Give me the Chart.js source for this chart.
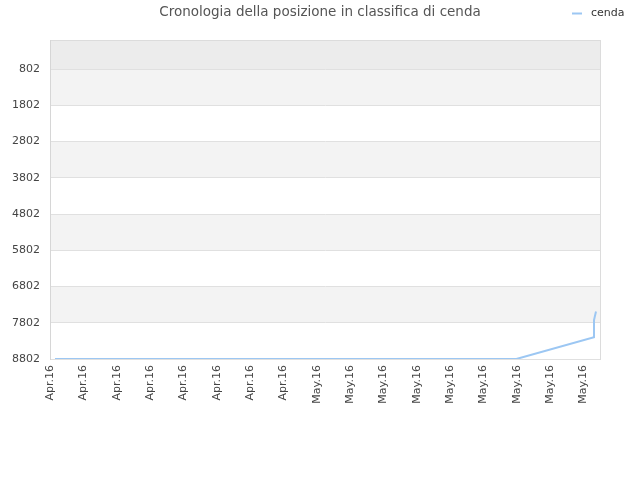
<!DOCTYPE html>
<html lang="it">
<head>
    <meta charset="UTF-8">
    <title>Cronologia della posizione in classifica di cenda</title>
    <script src="https://cdn.jsdelivr.net/npm/chart.js"></script>
    <style>
        html, body { margin: 0; padding: 0; background: #fff; }
        #wrap { width: 640px; height: 480px; }
    </style>
</head>
<body>
    <div id="wrap"><canvas id="rankChart" width="640" height="480"></canvas></div>

    <script>
        const xLabels = ['Apr.16', 'Apr.16', 'Apr.16', 'Apr.16', 'Apr.16', 'Apr.16', 'Apr.16', 'Apr.16',
                         'May.16', 'May.16', 'May.16', 'May.16', 'May.16', 'May.16', 'May.16', 'May.16', 'May.16'];
        const yTicks = [802, 1802, 2802, 3802, 4802, 5802, 6802, 7802, 8802];
        // x position of each reading, in label steps
        const pointPos = [0.15, 13.99, 16.32, 16.32, 16.38];
        const rankValues = [8802, 8802, 8203, 7726, 7492];
        const seriesName = 'cenda';

        const textColor = '#444';
        const lineColor = '#9cc7f3';

        // alternating bands behind the plot + frame
        const bandsPlugin = {
            id: 'bands',
            beforeDraw(chart) {
                const { ctx, chartArea: a, scales: { y } } = chart;
                ctx.save();
                ctx.fillStyle = '#ececec';
                ctx.fillRect(a.left, a.top, a.right - a.left, y.getPixelForValue(yTicks[0]) - a.top);
                for (let i = 0; i < yTicks.length - 1; i++) {
                    if ((yTicks.length - 2 - i) % 2 === 1) {
                        const t = y.getPixelForValue(yTicks[i]);
                        const b = y.getPixelForValue(yTicks[i + 1]);
                        ctx.fillStyle = '#f3f3f3';
                        ctx.fillRect(a.left, t, a.right - a.left, b - t);
                    }
                }
                ctx.strokeStyle = '#dcdcdc';
                ctx.lineWidth = 1;
                ctx.strokeRect(a.left + 0.5, a.top + 0.5, a.right - a.left, a.bottom - a.top);
                ctx.restore();
            }
        };

        // legend on the title row, right side
        const legendPlugin = {
            id: 'sideLegend',
            afterDraw(chart) {
                const ctx = chart.ctx;
                ctx.save();
                ctx.strokeStyle = lineColor;
                ctx.lineWidth = 2;
                ctx.beginPath();
                ctx.moveTo(572, 13.5);
                ctx.lineTo(582, 13.5);
                ctx.stroke();
                ctx.fillStyle = '#333';
                ctx.font = '11px "DejaVu Sans"';
                ctx.textBaseline = 'middle';
                ctx.fillText(seriesName, 591, 13);
                ctx.restore();
            }
        };

        new Chart(document.getElementById('rankChart'), {
            type: 'line',
            data: {
                datasets: [{
                    label: seriesName,
                    data: pointPos.map((x, i) => ({ x: x, y: rankValues[i] })),
                    borderColor: lineColor,
                    borderWidth: 2,
                    pointRadius: 0,
                    tension: 0,
                    fill: false
                }]
            },
            options: {
                responsive: false,
                animation: false,
                devicePixelRatio: 1,
                layout: { padding: 0 },
                plugins: {
                    legend: { display: false },
                    tooltip: { enabled: false },
                    title: {
                        display: true,
                        text: 'Cronologia della posizione in classifica di cenda',
                        color: '#555',
                        font: { family: 'DejaVu Sans', size: 13.5, weight: 'normal' },
                        padding: { top: 4, bottom: 19.8 }
                    }
                },
                scales: {
                    x: {
                        type: 'linear',
                        min: 0,
                        max: 16.5,
                        afterBuildTicks: s => { s.ticks = xLabels.map((_, i) => ({ value: i })); },
                        afterFit: s => { s.height = 121; },
                        grid: { display: false, drawTicks: false },
                        border: { display: false },
                        ticks: {
                            autoSkip: false,
                            minRotation: 90,
                            maxRotation: 90,
                            padding: 6,
                            color: textColor,
                            font: { family: 'DejaVu Sans', size: 11 },
                            callback: v => xLabels[v]
                        }
                    },
                    y: {
                        reverse: true,
                        min: 2,
                        max: 8802,
                        afterBuildTicks: s => { s.ticks = yTicks.map(v => ({ value: v })); },
                        afterFit: s => { s.width = 50; },
                        grid: { color: '#e0e0e0', drawTicks: false },
                        border: { color: '#d6d6d6' },
                        ticks: {
                            padding: 10,
                            color: textColor,
                            font: { family: 'DejaVu Sans', size: 11 },
                            callback: v => String(v)
                        }
                    },
                    // empty right margin so the title centres on the whole canvas
                    yRight: {
                        position: 'right',
                        display: true,
                        afterFit: s => { s.width = 40; },
                        grid: { display: false, drawTicks: false },
                        border: { display: false },
                        ticks: { display: false }
                    }
                }
            },
            plugins: [bandsPlugin, legendPlugin]
        });
    </script>
</body>
</html>
